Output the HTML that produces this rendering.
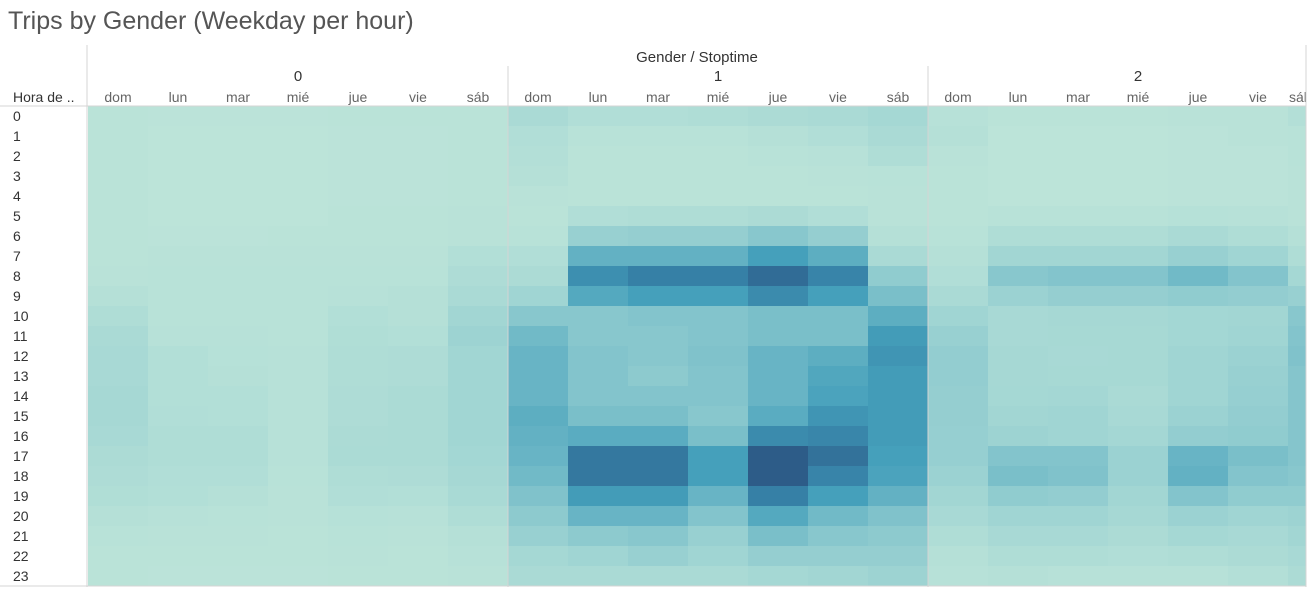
<!DOCTYPE html>
<html><head><meta charset="utf-8"><style>
body{margin:0;background:#fff;width:1313px;height:590px;overflow:hidden;font-family:"Liberation Sans",sans-serif}
svg text{font-family:"Liberation Sans",sans-serif}
</style></head><body>
<svg id="chart" width="1313" height="590" xmlns="http://www.w3.org/2000/svg">
<defs><clipPath id="clipR"><rect x="0" y="0" width="1306" height="590"/></clipPath></defs>
<text x="8" y="29" font-size="25" fill="#555">Trips by Gender (Weekday per hour)</text>
<g id="cells"></g>
<g id="labels" clip-path="url(#clipR)"></g>
<g id="lines"></g>
</svg>
<script>
const hours=[0,1,2,3,4,5,6,7,8,9,10,11,12,13,14,15,16,17,18,19,20,21,22,23];
const genders=["0","1","2"];
const days=["dom","lun","mar","mié","jue","vie","sáb"];
const g0dom=[3,3,3,3,3,3,3,3,4,8,14,20,22,22,24,24,22,18,16,13,8,5,3,3];
const g0lun=[2,1,1,1,1,1,2,4,5,5,5,6,11,11,11,12,14,14,12,11,6,4,3,2];
const g0mar=[2,1,1,1,1,1,2,4,5,5,5,6,7,8,11,11,14,14,12,8,5,4,3,2];
const g0mie=[2,1,1,1,1,1,3,4,5,5,5,5,6,6,6,6,6,6,5,4,4,3,3,2];
const g0jue=[3,2,2,2,2,3,3,4,5,6,11,13,14,14,16,16,18,19,15,12,7,5,4,3];
const g0vie=[3,2,2,2,2,3,3,4,5,8,8,11,16,16,19,19,19,19,16,11,6,4,3,3];
const g0sab=[3,3,3,3,3,4,4,11,16,20,28,32,29,29,29,29,29,27,24,21,14,8,6,4];
const g1dom=[20,12,10,8,4,3,5,12,18,30,45,55,58,58,58,62,60,58,55,50,42,35,25,20];
const g1lun=[12,5,3,3,3,12,35,60,78,65,45,45,48,48,48,52,63,88,88,72,58,42,30,20];
const g1mar=[12,5,3,3,3,14,37,60,85,70,48,45,45,42,48,52,63,88,88,72,58,45,35,20];
const g1mie=[14,5,3,3,3,14,37,60,85,70,48,48,50,48,48,45,52,70,70,58,48,35,30,20];
const g1jue=[18,8,5,3,3,18,45,70,92,80,52,52,58,58,58,63,80,98,98,85,65,52,37,25];
const g1vie=[20,12,6,4,3,12,37,62,83,70,52,52,62,66,68,75,82,90,83,70,55,45,37,28];
const g1sab=[25,20,15,5,4,4,8,20,40,52,62,72,75,72,72,72,72,70,68,60,50,42,37,32];
const g2dom=[6,8,4,3,3,3,5,8,12,20,30,35,38,38,37,37,36,36,33,28,22,15,8,6];
const g2lun=[3,1,1,1,1,5,15,28,45,33,22,22,24,24,25,28,32,48,52,40,30,22,15,8];
const g2mar=[3,1,1,1,1,5,15,28,48,37,24,23,22,23,26,30,30,48,50,38,30,22,15,6];
const g2mie=[3,1,1,1,1,5,15,28,48,37,24,23,23,23,20,22,26,33,33,28,24,18,12,6];
const g2jue=[4,2,2,2,2,7,20,35,55,40,27,27,30,30,30,33,38,58,60,48,33,25,15,6];
const g2vie=[4,4,2,2,2,6,15,30,48,38,28,30,33,35,36,38,40,52,48,40,30,22,18,10];
const g2sab=[10,5,5,4,4,4,8,15,25,35,45,48,50,47,47,47,47,47,45,40,32,28,22,18];
const series=[[g0dom,g0lun,g0mar,g0mie,g0jue,g0vie,g0sab],[g1dom,g1lun,g1mar,g1mie,g1jue,g1vie,g1sab],[g2dom,g2lun,g2mar,g2mie,g2jue,g2vie,g2sab]];

const X0=88,CW=60,Y0=106,RH=20,XMAX=1306;
const xPos=(gi,di)=>X0+(gi*7+di)*CW;
const yPos=h=>Y0+h*RH;
const stops=[[0,[189,228,217]],[30,[160,213,211]],[50,[128,194,203]],[70,[69,160,187]],[85,[54,128,166]],[100,[44,86,131]]];
function color(v){for(let i=1;i<stops.length;i++){if(v<=stops[i][0]){const a=stops[i-1],b=stops[i];const t=(v-a[0])/(b[0]-a[0]);return 'rgb('+a[1].map((c,k)=>Math.round(c+(b[1][k]-c)*t)).join(',')+')';}}return 'rgb(44,86,131)';}
const NS="http://www.w3.org/2000/svg";
const cells=document.getElementById('cells'),labels=document.getElementById('labels'),lines=document.getElementById('lines');
function mk(tag,attrs,parent){const e=document.createElementNS(NS,tag);for(const k in attrs)e.setAttribute(k,attrs[k]);parent.appendChild(e);return e;}
series.forEach((grp,gi)=>grp.forEach((vals,di)=>{
  const x=xPos(gi,di);if(x>=XMAX)return;const w=Math.min(CW,XMAX-x);
  hours.forEach((h,hi)=>{
    const r=mk('rect',{x:x,y:yPos(hi),width:w,height:RH,fill:color(vals[hi])},cells);
    
    
  });
}));
let t=mk('text',{x:697,y:62,'font-size':15,'text-anchor':'middle',fill:'#333'},labels);t.textContent='Gender / Stoptime';


t=mk('text',{x:13,y:102,'font-size':14,fill:'#333'},labels);t.textContent='Hora de ..';


genders.forEach((g,gi)=>{
  const tx=mk('text',{x:X0+gi*420+210,y:81,'font-size':15,'text-anchor':'middle',fill:'#333'},labels);tx.textContent=g;
  
  
  days.forEach((d,di)=>{
    const x=xPos(gi,di);
    const clipped=x+CW>XMAX;
    const dt=mk('text',{x:clipped?x+1:x+30,y:102,'font-size':14,'text-anchor':clipped?'start':'middle',fill:'#666'},labels);dt.textContent=d;
    
    
  });
});
hours.forEach((h,hi)=>{
  const ht=mk('text',{x:13,y:yPos(hi)+15,'font-size':14,fill:'#333'},labels);ht.textContent=h;
  
  
});
[[87,45,87,587],[508,66,508,587],[928,66,928,587],[XMAX,45,XMAX,587],[0,106,XMAX,106],[0,586,XMAX,586]].forEach((l,i)=>{
  const ln=mk('line',{x1:l[0],y1:l[1],x2:l[2],y2:l[3],stroke:'#d4d4d4','stroke-width':1},lines);
  
  
});
</script>
</body></html>
